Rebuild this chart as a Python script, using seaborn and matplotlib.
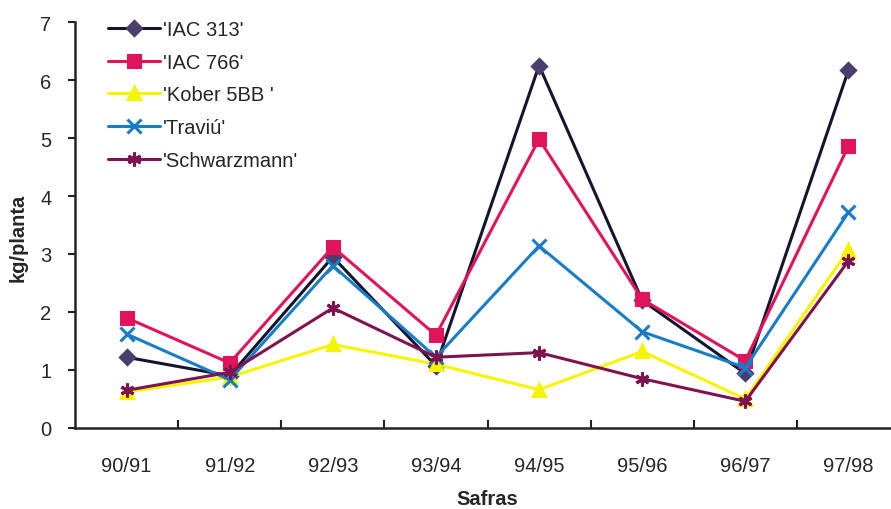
import matplotlib
matplotlib.use("Agg")
import matplotlib.pyplot as plt
import seaborn as sns
import numpy as np

safras = ["90/91", "91/92", "92/93", "93/94", "94/95", "95/96", "96/97", "97/98"]
iac313 = [1.22, 0.90, 2.95, 1.07, 6.25, 2.20, 0.94, 6.17]
iac766 = [1.90, 1.12, 3.12, 1.60, 4.98, 2.22, 1.16, 4.86]
kober = [0.62, 0.88, 1.44, 1.10, 0.66, 1.32, 0.50, 3.07]
traviu = [1.62, 0.83, 2.80, 1.22, 3.14, 1.66, 1.04, 3.72]
schwarz = [0.65, 0.96, 2.07, 1.22, 1.30, 0.85, 0.46, 2.88]

names = ["'IAC 313'", "'IAC 766'", "'Kober 5BB '", "'Traviú'", "'Schwarzmann'"]
series = [iac313, iac766, kober, traviu, schwarz]
colors = ["#151530", "#e0145a", "#f5f500", "#1a7cc6", "#7d1450"]
mfc = ["#4a3e6e", "#e0145a", "#f5f500", "#1a7cc6", "#7d1450"]
markers = ["D", "s", "^", "x", (6, 2, 0)]
msizes = [7, 9, 9, 10, 10]

sns.set_theme(style="white")
plt.rcParams['font.family'] = ['Liberation Sans', 'DejaVu Sans']

fig = plt.figure(figsize=(8.91, 5.10), dpi=100)
ax = fig.add_axes([75/891, 81/510, 825/891, 406/510])

x = np.arange(len(safras))
for name, vals, c, fc, m, ms in zip(names, series, colors, mfc, markers, msizes):
    sns.lineplot(x=x, y=vals, ax=ax, color=c, marker=m, markersize=ms,
                 markerfacecolor=fc, markeredgecolor=fc, markeredgewidth=2.2,
                 linewidth=2.2, label=name)

ax.set_xlim(-0.5, len(safras) - 0.5)
ax.set_ylim(0, 7)
ax.set_xticks(x)
ax.set_xticklabels(safras, fontsize=14.5)
ax.set_xticks(np.arange(0.5, len(safras) - 0.5, 1), minor=True)
ax.tick_params(axis='x', which='major', length=0, pad=20)
ax.tick_params(axis='x', which='minor', direction='in', length=6, width=1.5, color='#222222', bottom=True)
ax.set_yticks(range(0, 8))
ax.tick_params(axis='y', which='major', direction='out', length=5, width=1.5, color='#222222', left=True, labelsize=14.5, pad=12)

for s in ["top", "right"]:
    ax.spines[s].set_visible(False)
for s in ["left", "bottom"]:
    ax.spines[s].set_color("#222222")
    ax.spines[s].set_linewidth(1.8)

ax.set_xlabel("Safras", fontsize=14.5, fontweight="bold", labelpad=10)
ax.set_ylabel("kg/planta", fontsize=14.5, fontweight="bold", labelpad=0)
ax.yaxis.set_label_coords(-0.058, 0.47)

leg = ax.legend(loc="upper left", bbox_to_anchor=(0.03, 1.025), frameon=False,
                fontsize=14.5, handlelength=2.6, handletextpad=0.15,
                labelspacing=0.68, borderaxespad=0)

fig.savefig("out.png", dpi=100)
